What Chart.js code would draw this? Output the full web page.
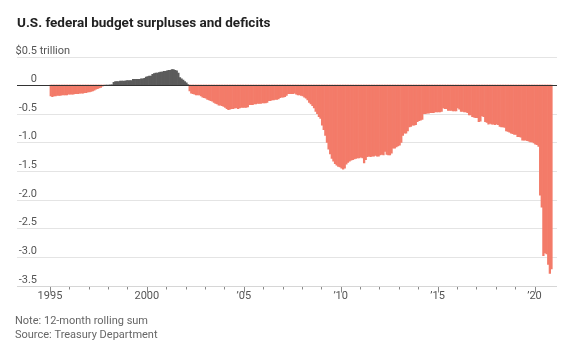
<!DOCTYPE html>
<html>
<head>
<meta charset="utf-8">
<script src="https://cdn.jsdelivr.net/npm/chart.js@4"></script>
<style>
  html, body { margin: 0; padding: 0; background: #fff; }
  #wrap { position: relative; width: 575px; height: 354px; }
</style>
</head>
<body>
<div id="wrap"><canvas id="budgetChart" width="575" height="354"></canvas></div>
<script>
// 12-month rolling sum, trillions of dollars, Jan 1995 .. Nov 2020
var firstYear = 1995;
var balance = [
  -0.19,-0.20,-0.19,-0.19,-0.18,-0.18,-0.18,-0.17,-0.17,-0.17,-0.17,-0.16, // 1995
  -0.16,-0.16,-0.16,-0.15,-0.15,-0.15,-0.14,-0.14,-0.14,-0.13,-0.13,-0.12, // 1996
  -0.12,-0.11,-0.10,-0.09,-0.07,-0.06,-0.05,-0.04,-0.02,-0.01, 0.00, 0.00, // 1997
   0.00, 0.005,0.005,0.05, 0.06, 0.06, 0.06, 0.07, 0.07, 0.07, 0.07, 0.08, // 1998
   0.08, 0.08, 0.08, 0.10, 0.10, 0.10, 0.10, 0.10, 0.11, 0.11, 0.12, 0.14, // 1999
   0.15, 0.16, 0.16, 0.19, 0.20, 0.21, 0.21, 0.22, 0.23, 0.23, 0.24, 0.24, // 2000
   0.25, 0.26, 0.26, 0.27, 0.27, 0.26, 0.25, 0.21, 0.13, 0.11, 0.09, 0.06, // 2001
   0.04, 0.01,-0.10,-0.14,-0.15,-0.16,-0.17,-0.17,-0.17,-0.19,-0.21,-0.22, // 2002
  -0.23,-0.25,-0.26,-0.27,-0.28,-0.30,-0.32,-0.33,-0.35,-0.35,-0.36,-0.37, // 2003
  -0.39,-0.41,-0.43,-0.42,-0.41,-0.41,-0.40,-0.40,-0.41,-0.40,-0.39,-0.39, // 2004
  -0.39,-0.39,-0.38,-0.34,-0.34,-0.34,-0.33,-0.33,-0.32,-0.32,-0.32,-0.31, // 2005
  -0.31,-0.31,-0.30,-0.27,-0.27,-0.26,-0.26,-0.25,-0.25,-0.24,-0.22,-0.21, // 2006
  -0.21,-0.20,-0.18,-0.15,-0.15,-0.15,-0.15,-0.14,-0.16,-0.17,-0.17,-0.18, // 2007
  -0.19,-0.21,-0.23,-0.26,-0.30,-0.33,-0.36,-0.40,-0.46,-0.50,-0.55,-0.58, // 2008
  -0.70,-0.78,-0.88,-1.00,-1.12,-1.20,-1.28,-1.33,-1.37,-1.40,-1.42,-1.43, // 2009
  -1.45,-1.47,-1.45,-1.38,-1.35,-1.33,-1.31,-1.30,-1.29,-1.28,-1.27,-1.27, // 2010
  -1.26,-1.27,-1.36,-1.30,-1.25,-1.24,-1.25,-1.24,-1.24,-1.23,-1.24,-1.24, // 2011
  -1.22,-1.21,-1.22,-1.16,-1.21,-1.22,-1.22,-1.19,-1.10,-1.10,-1.08,-1.06, // 2012
  -1.05,-1.00,-0.88,-0.84,-0.84,-0.80,-0.73,-0.72,-0.70,-0.70,-0.69,-0.64, // 2013
  -0.62,-0.61,-0.60,-0.50,-0.50,-0.49,-0.49,-0.48,-0.48,-0.48,-0.47,-0.47, // 2014
  -0.47,-0.47,-0.46,-0.40,-0.41,-0.41,-0.44,-0.44,-0.44,-0.45,-0.45,-0.45, // 2015
  -0.40,-0.42,-0.46,-0.46,-0.47,-0.47,-0.48,-0.52,-0.52,-0.55,-0.56,-0.57, // 2016
  -0.57,-0.64,-0.63,-0.54,-0.55,-0.64,-0.65,-0.68,-0.67,-0.68,-0.68,-0.69, // 2017
  -0.68,-0.69,-0.72,-0.73,-0.73,-0.74,-0.80,-0.81,-0.82,-0.84,-0.85,-0.86, // 2018
  -0.86,-0.90,-0.90,-0.91,-0.96,-0.96,-0.96,-0.97,-0.98,-0.99,-0.99,-1.01, // 2019
  -1.03,-1.04,-1.07,-1.92,-2.13,-2.98,-2.93,-2.95,-3.13,-3.29,-3.21        // 2020
];

var yTicks = [0.5, 0, -0.5, -1.0, -1.5, -2.0, -2.5, -3.0, -3.5];
var yLabels = ['$0.5', '0', '-0.5', '-1.0', '-1.5', '-2.0', '-2.5', '-3.0', '-3.5'];
var tickYears = [1995, 1996, 1997, 1998, 1999, 2000, 2001, 2002, 2003, 2004, 2005, 2006, 2007,
                 2008, 2009, 2010, 2011, 2012, 2013, 2014, 2015, 2016, 2017, 2018, 2019, 2020];
var labelYears = [1995, 2000, 2005, 2010, 2015, 2020];
var labelTexts = ['1995', '2000', '\u201905', '\u201910', '\u201915', '\u201920'];

var FONT = "'Roboto', 'Liberation Sans', sans-serif";
var RED = '#f37b69';
var GRAY = '#5b5b5b';

// month i sits in the middle of its month on a decimal-year axis
var points = balance.map(function (v, i) {
  return { x: firstYear + Math.floor(i / 12) + (i % 12 + 0.5) / 12, y: v };
});

var decorPlugin = {
  id: 'decor',
  beforeDatasetsDraw: function (chart) {
    var ctx = chart.ctx, area = chart.chartArea;
    var ys = chart.scales.y;
    ctx.save();
    ctx.lineWidth = 1;
    yTicks.forEach(function (t) {
      if (t === 0 || t === -3.5) return;
      var py = Math.round(ys.getPixelForValue(t)) + 0.5;
      ctx.strokeStyle = '#e4e4e4';
      ctx.beginPath();
      ctx.moveTo(area.left, py);
      ctx.lineTo(area.right, py);
      ctx.stroke();
    });
    ctx.restore();
  },
  afterDatasetsDraw: function (chart) {
    var ctx = chart.ctx, area = chart.chartArea;
    var xs = chart.scales.x, ys = chart.scales.y;
    ctx.save();

    // zero line
    var z = Math.round(ys.getPixelForValue(0)) + 0.5;
    ctx.strokeStyle = '#333';
    ctx.lineWidth = 1.2;
    ctx.beginPath();
    ctx.moveTo(area.left, z);
    ctx.lineTo(area.right, z);
    ctx.stroke();

    // bottom axis
    var by = Math.round(ys.getPixelForValue(-3.5)) + 0.5;
    ctx.strokeStyle = '#d6d6d6';
    ctx.lineWidth = 1;
    ctx.beginPath();
    ctx.moveTo(area.left, by);
    ctx.lineTo(area.right, by);
    ctx.stroke();

    // year ticks
    ctx.strokeStyle = '#888';
    tickYears.forEach(function (yr) {
      var px = Math.round(xs.getPixelForValue(yr)) + 0.5;
      var major = labelYears.indexOf(yr) >= 0;
      ctx.beginPath();
      ctx.moveTo(px, by + 0.5);
      ctx.lineTo(px, by + (major ? 6 : 3));
      ctx.stroke();
    });

    // x labels
    ctx.fillStyle = '#555';
    ctx.font = '11px ' + FONT;
    ctx.textAlign = 'center';
    ctx.textBaseline = 'alphabetic';
    labelYears.forEach(function (yr, i) {
      ctx.fillText(labelTexts[i], xs.getPixelForValue(yr), 298.5);
    });

    // y labels, sitting just above their gridlines
    ctx.textAlign = 'right';
    yTicks.forEach(function (t, i) {
      var py = ys.getPixelForValue(t) - 3;
      ctx.fillText(yLabels[i], 37, py);
      if (i === 0) {
        ctx.textAlign = 'left';
        ctx.fillText(' trillion', 37, py);
        ctx.textAlign = 'right';
      }
    });

    // title and notes
    ctx.textAlign = 'left';
    ctx.fillStyle = '#222';
    ctx.font = 'bold 13.5px ' + FONT;
    ctx.fillText('U.S. federal budget surpluses and deficits', 17, 27);
    ctx.fillStyle = '#666';
    ctx.font = '11px ' + FONT;
    ctx.fillText('Note: 12-month rolling sum', 15, 324);
    ctx.fillText('Source: Treasury Department', 15, 338);
    ctx.restore();
  }
};

new Chart(document.getElementById('budgetChart'), {
  type: 'bar',
  data: {
    datasets: [{
      data: points,
      backgroundColor: function (c) { return c.raw && c.raw.y >= 0 ? GRAY : RED; },
      borderWidth: 0,
      barPercentage: 1.0,
      categoryPercentage: 1.0
    }]
  },
  options: {
    responsive: false,
    animation: false,
    events: [],
    layout: { padding: { left: 17, right: 18, top: 56.5, bottom: 68.5 } },
    plugins: { legend: { display: false }, tooltip: { enabled: false } },
    scales: {
      x: { type: 'linear', display: false, offset: false, min: 1993.3, max: 2021.16 },
      y: { type: 'linear', display: false, min: -3.5, max: 0.5 }
    }
  },
  plugins: [decorPlugin]
});
</script>
</body>
</html>
